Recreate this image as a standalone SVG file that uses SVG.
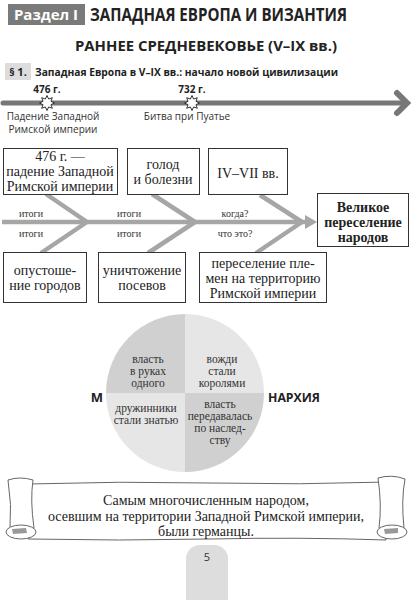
<svg xmlns="http://www.w3.org/2000/svg" width="412" height="600" viewBox="0 0 412 600">
<defs>
<style>
.sans{font-family:"Open Sans","Noto Sans","DejaVu Sans",sans-serif}
.serif{font-family:"Liberation Serif","DejaVu Serif",serif;fill:#222}
.box{fill:#fff;stroke:#333;stroke-width:1}
.bone{stroke:#a6a6a6;stroke-width:4.5;fill:none;stroke-linecap:butt}
.bt{font-size:14px;text-anchor:middle}
.lbl{font-size:10px;text-anchor:middle;fill:#333}
.ct{font-size:11.5px;text-anchor:middle;fill:#333}
.star{fill:#fff;stroke:#333;stroke-width:1;stroke-linejoin:miter}
.scroll{fill:#fff;stroke:#666;stroke-width:1}
</style>
<polygon id="star8" points="0,-7.5 1.65,-3.97 5.3,-5.3 3.97,-1.65 7.5,0 3.97,1.65 5.3,5.3 1.65,3.97 0,7.5 -1.65,3.97 -5.3,5.3 -3.97,1.65 -7.5,0 -3.97,-1.65 -5.3,-5.3 -1.65,-3.97"/>
</defs>
<rect width="412" height="600" fill="#fff"/>

<g id="header">
<rect x="8" y="4" width="77" height="21" fill="#7a7a7a"/>
<text x="46" y="20" class="sans" font-size="15" font-weight="bold" fill="#fff" text-anchor="middle">Раздел I</text>
<text x="90" y="21" class="sans" font-size="18" font-weight="bold" fill="#222" textLength="257" lengthAdjust="spacingAndGlyphs">ЗАПАДНАЯ ЕВРОПА И ВИЗАНТИЯ</text>
<text x="206" y="51" class="sans" font-size="15" font-weight="bold" fill="#222" text-anchor="middle" textLength="262" lengthAdjust="spacingAndGlyphs">РАННЕЕ СРЕДНЕВЕКОВЬЕ (V–IX вв.)</text>
<rect x="5" y="63" width="26" height="17" fill="#ddd"/>
<text x="18" y="76" class="sans" font-size="11" font-weight="bold" fill="#222" text-anchor="middle">§ 1.</text>
<text x="35" y="76" class="sans" font-size="11" font-weight="bold" fill="#222" textLength="303" lengthAdjust="spacingAndGlyphs">Западная Европа в V–IX вв.: начало новой цивилизации</text>
</g>

<g id="timeline">
<line x1="3" y1="103" x2="404" y2="103" stroke="#777" stroke-width="5" stroke-linecap="round"/>
<polyline points="397,93 407,103 397,113" fill="none" stroke="#777" stroke-width="6" stroke-linecap="round" stroke-linejoin="miter"/>
<use href="#star8" x="47" y="103" class="star"/>
<use href="#star8" x="192" y="103" class="star"/>
<text x="47" y="93" class="sans" font-size="10" font-weight="bold" fill="#222" text-anchor="middle">476 г.</text>
<text x="192" y="93" class="sans" font-size="10" font-weight="bold" fill="#222" text-anchor="middle">732 г.</text>
<text x="53" y="120" class="sans" font-size="10" fill="#333" text-anchor="middle">Падение Западной</text>
<text x="53" y="133" class="sans" font-size="10" fill="#333" text-anchor="middle">Римской империи</text>
<text x="187" y="120" class="sans" font-size="10" fill="#333" text-anchor="middle">Битва при Пуатье</text>
</g>

<g id="connectors">
<line class="bone" x1="2" y1="222" x2="306" y2="222"/>
<polygon points="305,215 317,222 305,229" fill="#a6a6a6"/>
<line class="bone" x1="46" y1="194" x2="87" y2="222"/>
<line class="bone" x1="87" y1="222" x2="41" y2="253"/>
<line class="bone" x1="152" y1="194" x2="195" y2="222"/>
<line class="bone" x1="195" y1="222" x2="148" y2="253"/>
<line class="bone" x1="260" y1="195" x2="302" y2="222"/>
<line class="bone" x1="302" y1="222" x2="256" y2="253"/>
</g>

<g id="labels">
<text x="31" y="217" class="serif lbl">итоги</text>
<text x="31" y="237" class="serif lbl">итоги</text>
<text x="129" y="217" class="serif lbl">итоги</text>
<text x="129" y="237" class="serif lbl">итоги</text>
<text x="235" y="217" class="serif lbl">когда?</text>
<text x="235" y="237" class="serif lbl">что это?</text>
</g>

<g id="n1">
<rect class="box" x="3.5" y="148.5" width="114" height="46"/>
<text x="60" y="161" class="serif bt">476 г. —</text>
<text x="60" y="176" class="serif bt">падение Западной</text>
<text x="60" y="191" class="serif bt">Римской империи</text>
</g>
<g id="n2">
<rect class="box" x="127.5" y="148.5" width="72" height="46"/>
<text x="163" y="169" class="serif bt">голод</text>
<text x="163" y="184" class="serif bt">и болезни</text>
</g>
<g id="n3">
<rect class="box" x="208.5" y="148.5" width="79" height="46"/>
<text x="248" y="178" class="serif bt">IV–VII вв.</text>
</g>
<g id="n4">
<rect class="box" x="317.5" y="193.5" width="91" height="53"/>
<text x="363" y="212" class="serif bt" font-weight="bold">Великое</text>
<text x="363" y="227" class="serif bt" font-weight="bold">переселение</text>
<text x="363" y="242" class="serif bt" font-weight="bold">народов</text>
</g>
<g id="n5">
<rect class="box" x="3.5" y="252.5" width="83" height="50"/>
<text x="45" y="275" class="serif bt">опустоше-</text>
<text x="45" y="290" class="serif bt">ние городов</text>
</g>
<g id="n6">
<rect class="box" x="98.5" y="252.5" width="87" height="50"/>
<text x="142" y="275" class="serif bt">уничтожение</text>
<text x="142" y="290" class="serif bt">посевов</text>
</g>
<g id="n7">
<rect class="box" x="199.5" y="252.5" width="127" height="50"/>
<text x="263" y="268" class="serif bt">переселение пле-</text>
<text x="263" y="283" class="serif bt">мен на территорию</text>
<text x="263" y="298" class="serif bt">Римской империи</text>
</g>

<g id="circle">
<path d="M185,393 L185,314 A79,79 0 0 0 106,393 Z" fill="#d0d0d0"/>
<path d="M185,393 L264,393 A79,79 0 0 0 185,314 Z" fill="#e6e6e6"/>
<path d="M185,393 L106,393 A79,79 0 0 0 185,472 Z" fill="#e6e6e6"/>
<path d="M185,393 L185,472 A79,79 0 0 0 264,393 Z" fill="#d0d0d0"/>
<text x="148" y="363" class="serif ct">власть</text>
<text x="148" y="375" class="serif ct">в руках</text>
<text x="148" y="387" class="serif ct">одного</text>
<text x="222" y="363" class="serif ct">вожди</text>
<text x="222" y="375" class="serif ct">стали</text>
<text x="222" y="387" class="serif ct">королями</text>
<text x="146" y="412" class="serif ct">дружинники</text>
<text x="146" y="424" class="serif ct">стали знатью</text>
<text x="220" y="408" class="serif ct">власть</text>
<text x="220" y="420" class="serif ct">передавалась</text>
<text x="220" y="432" class="serif ct">по наслед-</text>
<text x="220" y="444" class="serif ct">ству</text>
<text x="97" y="402" class="sans" font-size="13" font-weight="bold" fill="#222" text-anchor="middle">М</text>
<text x="268" y="402" class="sans" font-size="13" font-weight="bold" fill="#222" textLength="52" lengthAdjust="spacingAndGlyphs">НАРХИЯ</text>
</g>

<g id="scroll">
<path class="scroll" d="M28,484 Q120,481 210,483 Q300,485 388,482 L386,540 Q300,537 210,539 Q120,541 28,539 Z"/>
<path class="scroll" d="M8,480 Q20,476 33,480 Q30,500 34,528 Q22,532 10,528 Q12,505 8,480 Z"/>
<ellipse class="scroll" cx="21" cy="532" rx="15" ry="7"/>
<path d="M12,529 L26,528 L27,533 L13,534 Z" fill="#999"/>
<path class="scroll" d="M378,478 Q392,474 405,479 Q401,500 404,528 Q392,532 379,528 Q382,505 378,478 Z"/>
<ellipse class="scroll" cx="392" cy="532" rx="15" ry="7"/>
<path d="M384,529 L398,528 L398,533 L385,534 Z" fill="#999"/>
<text x="206" y="505" class="serif" font-size="14" text-anchor="middle">Самым многочисленным народом,</text>
<text x="206" y="521" class="serif" font-size="14" text-anchor="middle">осевшим на территории Западной Римской империи,</text>
<text x="206" y="536" class="serif" font-size="14" text-anchor="middle">были германцы.</text>
</g>

<g id="page">
<path d="M186,600 L186,559 A14,14 0 0 1 200,545 L214,545 A14,14 0 0 1 228,559 L228,600 Z" fill="#ddd"/>
<text x="207" y="561" class="sans" font-size="11" fill="#333" text-anchor="middle">5</text>
</g>
</svg>
